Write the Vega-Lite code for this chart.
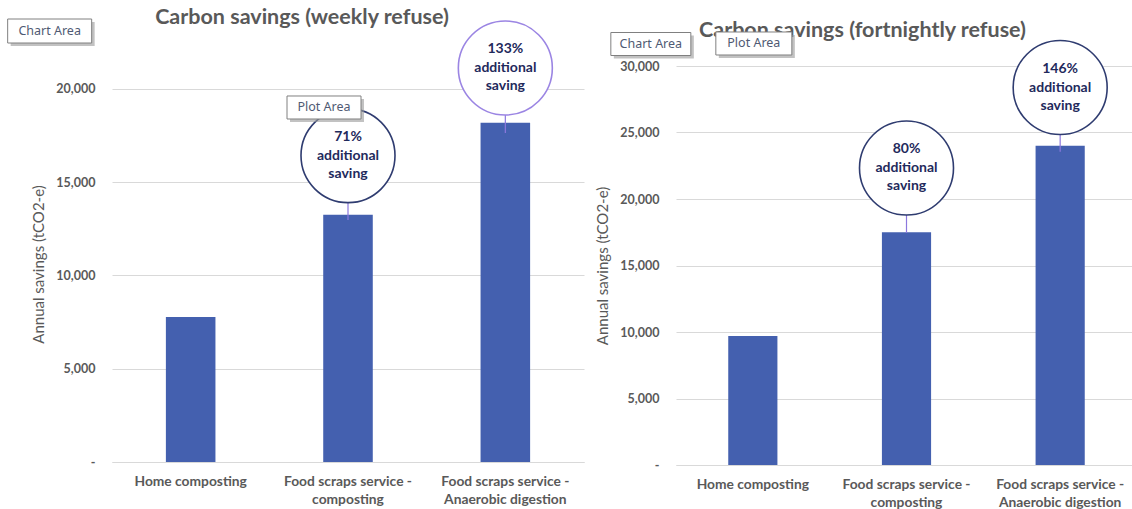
{
  "$schema": "https://vega.github.io/schema/vega-lite/v6.json",
  "autosize": {"type": "none"},
  "padding": {"left": 112, "top": 66, "right": 1020, "bottom": 443},
  "background": "white",
  "bounds": "flush",
  "spacing": 92,
  "config": {
    "view": {"stroke": null},
    "font": "Lato",
    "axis": {"labelFont": "Lato", "titleFont": "Lato", "labelColor": "#595959", "titleColor": "#595959", "gridColor": "#d9d9d9", "gridWidth": 1, "ticks": false}
  },
  "datasets": {
    "weekly": [
      {"category": "Home composting", "value": 7770},
      {"category": "Food scraps service - composting", "value": 13240},
      {"category": "Food scraps service - Anaerobic digestion", "value": 18170}
    ],
    "weekly_callouts": [
      {"category": "Food scraps service - composting", "value": 16415, "low": 12965, "label": ["71%", "additional", "saving"]},
      {"category": "Food scraps service - Anaerobic digestion", "value": 21109, "low": 17626, "label": ["133%", "additional", "saving"]}
    ],
    "fortnightly": [
      {"category": "Home composting", "value": 9700},
      {"category": "Food scraps service - composting", "value": 17500},
      {"category": "Food scraps service - Anaerobic digestion", "value": 24000}
    ],
    "fortnightly_callouts": [
      {"category": "Food scraps service - composting", "value": 22331, "low": 17444, "label": ["80%", "additional", "saving"]},
      {"category": "Food scraps service - Anaerobic digestion", "value": 28383, "low": 23556, "label": ["146%", "additional", "saving"]}
    ],
    "f_title": [{"category": "Food scraps service - composting", "value": 32632, "text": "Carbon savings (fortnightly refuse)"}],
    "w_chart_area": [{"category": "Home composting", "value": 23091, "text": "Chart Area"}],
    "w_plot_area": [{"category": "Food scraps service - composting", "value": 18993, "text": "Plot Area"}],
    "f_chart_area": [{"category": "Home composting", "value": 31654, "text": "Chart Area"}],
    "f_plot_area": [{"category": "Home composting", "value": 31692, "text": "Plot Area"}]
  },
  "hconcat": [
    {
      "width": 472,
      "height": 396,
      "title": {"text": "Carbon savings (weekly refuse)", "font": "Lato", "fontSize": 21.5, "fontWeight": "bold", "color": "#595959", "anchor": "middle", "dx": -46, "offset": -11.5},
      "encoding": {
        "x": {
          "field": "category", "type": "nominal", "sort": null,
          "scale": {"domain": ["Home composting", "Food scraps service - composting", "Food scraps service - Anaerobic digestion"], "paddingInner": 0.685, "paddingOuter": 0.3425},
          "axis": {"title": null, "labelAngle": 0, "labelExpr": "indexof(datum.label, ' - ') > 0 ? [substring(datum.label, 0, indexof(datum.label, ' - ')) + ' -', substring(datum.label, indexof(datum.label, ' - ') + 3)] : datum.label", "labelFontSize": 13.8, "labelFontWeight": "bold", "labelLineHeight": 18, "labelPadding": 12, "domain": true, "domainColor": "#d9d9d9", "grid": false, "labelLimit": 250}
        },
        "y": {
          "field": "value", "type": "quantitative",
          "scale": {"domain": [0, 21216], "nice": false, "zero": true},
          "axis": {"title": "Annual savings (tCO2-e)", "values": [0, 5000, 10000, 15000, 20000], "labelExpr": "datum.value == 0 ? '-\u00a0\u00a0\u00a0\u00a0\u00a0' : format(datum.value, ',')", "grid": true, "domain": false, "labelPadding": 17, "labelFontSize": 12.5, "labelFontWeight": "bold", "titleFontWeight": "normal", "titleFontSize": 15, "titlePadding": 9}
        }
      },
      "layer": [
        {"data": {"name": "weekly"}, "mark": {"type": "bar", "color": "#4460AF"}},
        {"data": {"name": "weekly_callouts"}, "mark": {"type": "rule", "color": "#8C78DE", "strokeWidth": 1.2}, "encoding": {"y2": {"field": "low"}}},
        {"data": {"name": "weekly_callouts"}, "mark": {"type": "point", "shape": "circle", "size": 8836, "filled": false, "fill": "white", "fillOpacity": 1, "strokeWidth": 1.6, "opacity": 1},
         "encoding": {"stroke": {"condition": {"test": "datum.label[0] == '133%'", "value": "#9B85E3"}, "value": "#2F3C70"}}},
        {"data": {"name": "weekly_callouts"}, "mark": {"type": "text", "font": "Lato", "fontSize": 14, "fontWeight": "bold", "color": "#1F2A5C", "lineHeight": 18.5, "align": "center", "baseline": "middle", "dy": -18.5},
         "encoding": {"text": {"field": "label"}}},
        {"data": {"name": "w_chart_area"}, "layer": [
          {"mark": {"type": "point", "shape": "M-1,-0.2857L1,-0.2857L1,0.2857L-1,0.2857Z", "size": 7056, "filled": true, "color": "#9a9a9a", "opacity": 0.6, "xOffset": -138, "yOffset": 3}},
          {"mark": {"type": "point", "shape": "M-1,-0.2857L1,-0.2857L1,0.2857L-1,0.2857Z", "size": 7056, "filled": false, "fill": "white", "fillOpacity": 1, "stroke": "#808080", "strokeWidth": 1, "opacity": 1, "xOffset": -141}},
          {"mark": {"type": "text", "font": "Noto Sans", "fontSize": 12.5, "color": "#4F5A73", "align": "center", "baseline": "middle", "xOffset": -141}, "encoding": {"text": {"field": "text"}}}
        ]},
        {"data": {"name": "w_plot_area"}, "layer": [
          {"mark": {"type": "point", "shape": "M-1,-0.311L1,-0.311L1,0.311L-1,0.311Z", "size": 5476, "filled": true, "color": "#9a9a9a", "opacity": 0.6, "xOffset": -21, "yOffset": 3}},
          {"mark": {"type": "point", "shape": "M-1,-0.311L1,-0.311L1,0.311L-1,0.311Z", "size": 5476, "filled": false, "fill": "white", "fillOpacity": 1, "stroke": "#808080", "strokeWidth": 1, "opacity": 1, "xOffset": -24}},
          {"mark": {"type": "text", "font": "Noto Sans", "fontSize": 12.5, "color": "#4F5A73", "align": "center", "baseline": "middle", "xOffset": -24}, "encoding": {"text": {"field": "text"}}}
        ]}
      ]
    },
    {
      "width": 461,
      "height": 399,
      "encoding": {
        "x": {
          "field": "category", "type": "nominal", "sort": null,
          "scale": {"domain": ["Home composting", "Food scraps service - composting", "Food scraps service - Anaerobic digestion"], "paddingInner": 0.68, "paddingOuter": 0.34},
          "axis": {"title": null, "labelAngle": 0, "labelExpr": "indexof(datum.label, ' - ') > 0 ? [substring(datum.label, 0, indexof(datum.label, ' - ')) + ' -', substring(datum.label, indexof(datum.label, ' - ') + 3)] : datum.label", "labelFontSize": 13.8, "labelFontWeight": "bold", "labelLineHeight": 18, "labelPadding": 12, "domain": true, "domainColor": "#d9d9d9", "grid": false, "labelLimit": 250}
        },
        "y": {
          "field": "value", "type": "quantitative",
          "scale": {"domain": [0, 30000], "nice": false, "zero": true},
          "axis": {"title": "Annual savings (tCO2-e)", "values": [0, 5000, 10000, 15000, 20000, 25000, 30000], "labelExpr": "datum.value == 0 ? '-\u00a0\u00a0\u00a0\u00a0\u00a0' : format(datum.value, ',')", "grid": true, "domain": false, "labelPadding": 17, "labelFontSize": 12.5, "labelFontWeight": "bold", "titleFontWeight": "normal", "titleFontSize": 15, "titlePadding": 9}
        }
      },
      "layer": [
        {"data": {"name": "fortnightly"}, "mark": {"type": "bar", "color": "#4460AF"}},
        {"data": {"name": "fortnightly_callouts"}, "mark": {"type": "rule", "color": "#8C78DE", "strokeWidth": 1.2}, "encoding": {"y2": {"field": "low"}}},
        {"data": {"name": "fortnightly_callouts"}, "mark": {"type": "point", "shape": "circle", "size": 8836, "filled": false, "fill": "white", "fillOpacity": 1, "stroke": "#2F3C70", "strokeWidth": 1.6, "opacity": 1}},
        {"data": {"name": "fortnightly_callouts"}, "mark": {"type": "text", "font": "Lato", "fontSize": 14, "fontWeight": "bold", "color": "#1F2A5C", "lineHeight": 18.5, "align": "center", "baseline": "middle", "dy": -18.5},
         "encoding": {"text": {"field": "label"}}},
        {"data": {"name": "f_title"}, "mark": {"type": "text", "font": "Lato", "fontSize": 21.5, "fontWeight": "bold", "color": "#595959", "align": "center", "baseline": "middle", "xOffset": -44},
         "encoding": {"text": {"field": "text"}}},
        {"data": {"name": "f_chart_area"}, "layer": [
          {"mark": {"type": "point", "shape": "M-1,-0.2875L1,-0.2875L1,0.2875L-1,0.2875Z", "size": 6400, "filled": true, "color": "#9a9a9a", "opacity": 0.6, "xOffset": -99, "yOffset": 3}},
          {"mark": {"type": "point", "shape": "M-1,-0.2875L1,-0.2875L1,0.2875L-1,0.2875Z", "size": 6400, "filled": false, "fill": "white", "fillOpacity": 1, "stroke": "#808080", "strokeWidth": 1, "opacity": 1, "xOffset": -102}},
          {"mark": {"type": "text", "font": "Noto Sans", "fontSize": 12.5, "color": "#4F5A73", "align": "center", "baseline": "middle", "xOffset": -102}, "encoding": {"text": {"field": "text"}}}
        ]},
        {"data": {"name": "f_plot_area"}, "layer": [
          {"mark": {"type": "point", "shape": "M-1,-0.3026L1,-0.3026L1,0.3026L-1,0.3026Z", "size": 5776, "filled": true, "color": "#9a9a9a", "opacity": 0.6, "xOffset": 4, "yOffset": 3}},
          {"mark": {"type": "point", "shape": "M-1,-0.3026L1,-0.3026L1,0.3026L-1,0.3026Z", "size": 5776, "filled": false, "fill": "white", "fillOpacity": 1, "stroke": "#808080", "strokeWidth": 1, "opacity": 1, "xOffset": 1}},
          {"mark": {"type": "text", "font": "Noto Sans", "fontSize": 12.5, "color": "#4F5A73", "align": "center", "baseline": "middle", "xOffset": 1}, "encoding": {"text": {"field": "text"}}}
        ]}
      ]
    }
  ]
}
